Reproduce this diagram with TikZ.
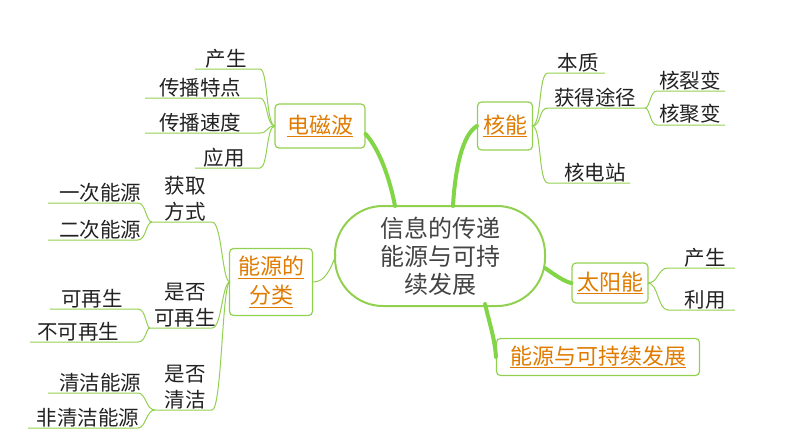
\documentclass[tikz,border=0pt]{standalone}
\usepackage{fontspec}
\newfontfamily\cjk{Noto Sans CJK SC}
\definecolor{lg}{HTML}{92D050}
\definecolor{og}{HTML}{E07B00}
\definecolor{tx}{HTML}{222222}
\begin{document}
\begin{tikzpicture}[x=1pt,y=-1pt,
  leaf/.style={font=\cjk\fontsize{20.5}{22}\selectfont,text=tx,inner sep=0pt},
  mid/.style={font=\cjk\fontsize{20.5}{26}\selectfont,text=tx,inner sep=0pt,align=center},
  box/.style={draw=lg,line width=1.2pt,rounded corners=4pt,inner sep=1pt,font=\cjk\fontsize{22}{29}\selectfont,text=og,align=center},
  ln/.style={draw=lg,line width=1pt},
  thick br/.style={draw=lg!90!green,line width=4pt,line cap=round}]
\useasboundingbox (0,0) rectangle (794,447);
% center
\node[draw=lg,line width=2pt,rounded corners=48pt,minimum width=210pt,minimum height=100pt,inner sep=1pt,
  font=\cjk\fontsize{24}{28}\selectfont,text=tx!85,align=center] (c) at (440,256) {信息的传递\\能源与可持\\续发展};
% boxes
\node[box,minimum width=90pt,minimum height=44pt] (em) at (320,126) {\underline{电磁波}};
\node[box,minimum width=55pt,minimum height=48pt] (he) at (505,126) {\underline{核能}};
\node[box,minimum width=83pt,minimum height=67pt] (fl) at (271,282) {\underline{能源的}\\\underline{分类}};
\node[box,minimum width=76pt,minimum height=40pt] (ty) at (610,283) {\underline{太阳能}};
\node[box,minimum width=203pt,minimum height=37pt] (ks) at (598,357) {\underline{能源与可持续发展}};
% main branches
\draw[thick br] (em.east) ++(0,8) coordinate (a1) .. controls (380,150) and (390,180) .. (395,206);
\draw[thick br] (he.west) .. controls (462,135) and (455,170) .. (453,206);
\draw[thick br] (545,268) .. controls (555,275) and (565,282) .. (ty.west);
\draw[thick br] (485,304) .. controls (490,325) and (495,340) .. (ks.west);
\draw[ln] (fl.east) .. controls (325,282) and (330,270) .. (336,255);
% electromagnetic leaves
\coordinate (emL) at (275,126);
\foreach \t/\x/\y/\xa in {产生/226/56/195,传播特点/200/85/145,传播速度/200/120/145,应用/224/155/195}{
  \node[leaf,anchor=south] at (\x,\y+12) {\t};
  \draw[ln] (\xa,\y+13) -- (260,\y+13) .. controls (268,\y+13) and (266,126) .. (emL);
}
% nuclear
\coordinate (heR) at (532,126);
\node[leaf,anchor=south] at (578,72) {本质};
\draw[ln] (605,73) -- (548,73) .. controls (538,73) and (542,126) .. (heR);
\node[leaf,anchor=south] at (595,107) {获得途径};
\draw[ln] (645,108) -- (548,108) .. controls (538,108) and (542,126) .. (heR);
\node[leaf,anchor=south] at (595,182) {核电站};
\draw[ln] (630,183) -- (548,183) .. controls (538,183) and (542,126) .. (heR);
\coordinate (hj) at (645,108);
\node[leaf,anchor=south] at (690,90) {核裂变};
\draw[ln] (725,91) -- (657,91) .. controls (650,91) and (650,108) .. (hj);
\node[leaf,anchor=south] at (690,124) {核聚变};
\draw[ln] (725,125) -- (657,125) .. controls (650,125) and (650,108) .. (hj);
% solar
\coordinate (tyR) at (648,283);
\node[leaf,anchor=south] at (705,267) {产生};
\draw[ln] (735,268) -- (668,268) .. controls (658,268) and (658,283) .. (tyR);
\node[leaf,anchor=south] at (705,309) {利用};
\draw[ln] (735,310) -- (668,310) .. controls (658,310) and (658,283) .. (tyR);
% classification
\coordinate (flL) at (230,282);
\node[mid,anchor=south] (m1) at (185,221) {获取\\方式};
\draw[ln] (150,222) -- (212,222) .. controls (222,222) and (222,282) .. (flL);
\node[mid,anchor=south] (m2) at (185,327) {是否\\可再生};
\draw[ln] (148,328) -- (212,328) .. controls (222,328) and (222,282) .. (flL);
\node[mid,anchor=south] (m3) at (185,409) {是否\\清洁};
\draw[ln] (155,410) -- (212,410) .. controls (222,410) and (222,282) .. (flL);
\foreach \t/\x/\y/\xa/\ty/\jx in {一次能源/100/203/48/222/152,二次能源/100/240/48/222/152,
  可再生/92/309/50/328/150,不可再生/78/342/30/328/150,清洁能源/100/393/48/410/155,非清洁能源/88/428/28/410/155}{
  \node[leaf,anchor=south] at (\x,\y-1) {\t};
  \draw[ln] (\xa,\y) -- (138,\y) .. controls (146,\y) and (146,\ty) .. (\jx,\ty);
}
\end{tikzpicture}
\end{document}
